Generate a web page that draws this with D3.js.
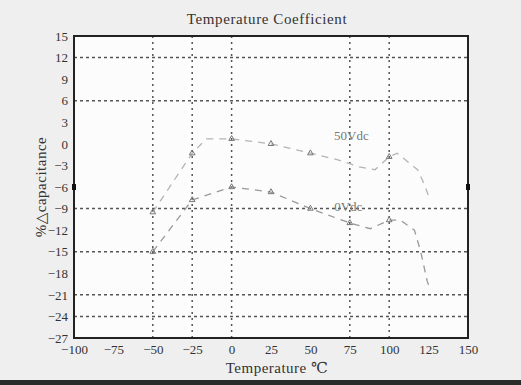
<!DOCTYPE html>
<html>
<head>
<meta charset="utf-8">
<script src="https://cdn.jsdelivr.net/npm/d3@7"></script>
<style>
  body { margin: 0; background: #efefef; }
  svg { display: block; font-family: 'Liberation Serif', 'DejaVu Serif', serif; }
</style>
</head>
<body>
<div id="chart"></div>
<script>
// values
const xTicks = [-100, -75, -50, -25, 0, 25, 50, 75, 100, 125, 150];
const yTicks = [15, 12, 9, 6, 3, 0, -3, -6, -9, -12, -15, -18, -21, -24, -27];
const xGrid = [-50, -25, 0, 75, 100];
const yGrid = [12, 6, -9, -15, -21, -24];

const temps0V = [-50, -25, 0, 25, 50, 75, 88, 100, 107, 116, 120, 124, 126];
const cap0V = [-15, -7.8, -6, -6.7, -9, -11, -11.8, -10.6, -10.6, -12, -15, -19, -20.3];

const temps50V = [-50, -25, -16, 0, 25, 50, 67, 81, 91, 100, 105, 118, 122, 126];
const cap50V = [-9.5, -1.3, 0.7, 0.7, 0, -1.3, -2.2, -3.2, -3.6, -1.8, -1.3, -3.6, -5.5, -7.8];

const curveLabels = [
    { text: '50Vdc', t: 76, v: 0.5 },
    { text: '0Vdc', t: 74, v: -9.3 },
];

const W = 521, H = 385;
const margin = { top: 36, right: 50, bottom: 47, left: 74 };

const svg = d3.select('#chart')
    .append('svg')
    .attr('width', W)
    .attr('height', H);

// scanned page look
svg.append('rect').attr('width', W).attr('height', H).attr('fill', '#efefef');
svg.append('rect').attr('x', 0).attr('y', 380).attr('width', W).attr('height', 5).attr('fill', '#2a2a2a');

const x = d3.scaleLinear().domain([-100, 150]).range([margin.left, W - margin.right - 3]);
const y = d3.scaleLinear().domain([-27, 15]).range([H - margin.bottom, margin.top]);

const [x0, x1] = x.range();
const [y0, y1] = y.range();

svg.append('rect')
    .attr('x', x0).attr('y', y1)
    .attr('width', x1 - x0).attr('height', y0 - y1)
    .attr('fill', '#fcfcfc');

// grid lines
svg.append('g')
    .selectAll('line')
    .data(yGrid)
    .join('line')
    .attr('x1', x0).attr('x2', x1)
    .attr('y1', (d) => y(d)).attr('y2', (d) => y(d))
    .attr('stroke', '#555')
    .attr('stroke-width', 1.5)
    .attr('stroke-dasharray', '3,3');

svg.append('g')
    .selectAll('line')
    .data(xGrid)
    .join('line')
    .attr('x1', (d) => x(d)).attr('x2', (d) => x(d))
    .attr('y1', y1).attr('y2', y0)
    .attr('stroke', '#555')
    .attr('stroke-width', 1.5)
    .attr('stroke-dasharray', '2,4');

// curves
const line = d3.line()
    .x((d) => x(d[0]))
    .y((d) => y(d[1]));

const series = [
    { temps: temps50V, caps: cap50V, color: '#b4b4b4' },
    { temps: temps0V, caps: cap0V, color: '#999' },
];

series.forEach((s) => {
    const pts = s.temps.map((t, i) => [t, s.caps[i]]);
    svg.append('path')
        .datum(pts)
        .attr('d', line)
        .attr('fill', 'none')
        .attr('stroke', s.color)
        .attr('stroke-width', 1.3)
        .attr('stroke-dasharray', '7,6');
    svg.append('g')
        .selectAll('path')
        .data(pts.filter((p) => p[0] % 25 === 0))
        .join('path')
        .attr('d', d3.symbol(d3.symbolTriangle, 14))
        .attr('transform', (d) => `translate(${x(d[0])},${y(d[1])})`)
        .attr('fill', 'none')
        .attr('stroke', '#777')
        .attr('stroke-width', 1);
});

svg.append('g')
    .selectAll('text')
    .data(curveLabels)
    .join('text')
    .attr('x', (d) => x(d.t))
    .attr('y', (d) => y(d.v))
    .attr('text-anchor', 'middle')
    .attr('font-size', 13)
    .attr('fill', '#777')
    .text((d) => d.text);

// frame
svg.append('rect')
    .attr('x', x0).attr('y', y1)
    .attr('width', x1 - x0).attr('height', y0 - y1)
    .attr('fill', 'none')
    .attr('stroke', '#222')
    .attr('stroke-width', 2);

// small black marks on the frame at -6
[x0, x1].forEach((px) => {
    svg.append('rect')
        .attr('x', px - 2).attr('y', y(-6) - 3)
        .attr('width', 4).attr('height', 6)
        .attr('fill', '#111');
});

// axes (labels only, MATLAB-like)
const xAxis = svg.append('g')
    .attr('transform', `translate(0,${y0})`)
    .call(d3.axisBottom(x).tickValues(xTicks).tickSize(0).tickPadding(7));
const yAxis = svg.append('g')
    .attr('transform', `translate(${x0},0)`)
    .call(d3.axisLeft(y).tickValues(yTicks).tickSize(0).tickPadding(6));

[xAxis, yAxis].forEach((a) => {
    a.select('.domain').remove();
    a.selectAll('text')
        .attr('font-family', "'Liberation Serif', serif")
        .attr('font-size', 13)
        .attr('fill', '#333');
});

// titles
svg.append('text')
    .attr('x', 267)
    .attr('y', 24)
    .attr('text-anchor', 'middle')
    .attr('font-size', 15)
    .attr('letter-spacing', 0.6)
    .attr('fill', '#333')
    .text('Temperature Coefficient');

svg.append('text')
    .attr('x', 277)
    .attr('y', 373)
    .attr('text-anchor', 'middle')
    .attr('font-size', 15)
    .attr('letter-spacing', 0.5)
    .attr('fill', '#333')
    .text('Temperature ℃');

svg.append('text')
    .attr('transform', `translate(46,${(y0 + y1) / 2}) rotate(-90)`)
    .attr('text-anchor', 'middle')
    .attr('font-size', 15)
    .attr('letter-spacing', 0.5)
    .attr('fill', '#333')
    .text('%△capacitance');
</script>
</body>
</html>
